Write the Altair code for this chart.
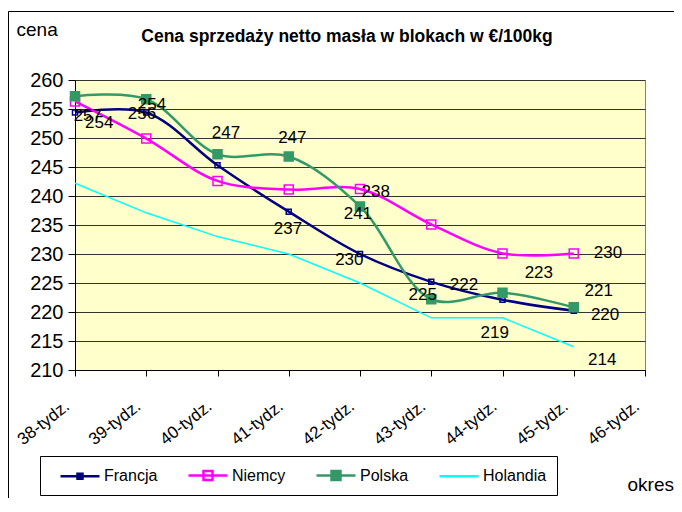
import json
import altair as alt
import pandas as pd

weeks = ["38-tydz.", "39-tydz.", "40-tydz.", "41-tydz.", "42-tydz.",
         "43-tydz.", "44-tydz.", "45-tydz.", "46-tydz."]
series_names = ["Francja", "Niemcy", "Polska", "Holandia"]
francja = [254.4, 254.4, 245.3, 237.3, 230.0, 225.2, 222.1, 220.2]
niemcy = [256.3, 249.9, 242.6, 241.1, 241.2, 235.1, 230.1, 230.1]
polska = [257.2, 256.7, 247.2, 246.8, 238.2, 222.2, 223.3, 220.8]
holandia = [242.2, 237.1, 233.0, 230.0, 225.0, 219.0, 219.0, 214.0]
colors = ["#000080", "#FF00FF", "#339966", "#00FFFF"]
fills = ["transparent", "transparent", "#339966", "transparent"]

label_text = ["257", "254", "256", "254", "247", "247", "237", "238", "241",
              "230", "225", "222", "223", "219", "230", "221", "220", "214"]
label_week = [0.18, 0.34, 0.94, 1.08, 2.12, 3.05, 2.99, 4.22, 3.97,
              3.85, 4.88, 5.46, 6.51, 5.89, 7.48, 7.35, 7.44, 7.40]
label_value = [253.8, 252.6, 254.1, 255.7, 250.8, 250.0, 234.3, 240.7, 236.9,
               228.9, 223.0, 224.6, 226.7, 216.3, 230.1, 223.6, 219.4, 211.8]

y_ticks = [210, 215, 220, 225, 230, 235, 240, 245, 250, 255, 260]
title_text = "Cena sprzedaży netto masła w blokach w €/100kg"

rows = []
for name, vals in zip(series_names, [francja, niemcy, polska, holandia]):
    for i, v in enumerate(vals):
        rows.append({"series": name, "pos": i, "value": v})
df = pd.DataFrame(rows)
labels_df = pd.DataFrame({"pos": label_week, "value": label_value, "text": label_text})

# legend symbols: line with square marker (unit = 8px)
legend_paths = [
    "M0.125,0H5M2.25,-0.3125H2.875V0.3125H2.25Z",
    "M0.125,0H5M2,-0.5625H3.125V0.5625H2Z",
    "M0.125,0H5M2,-0.5625H3.125V0.5625H2Z",
    "M0.125,0H5",
]

stroke_scale = alt.Scale(domain=series_names, range=colors)
fill_scale = alt.Scale(domain=series_names, range=fills)
shape_scale = alt.Scale(domain=series_names, range=legend_paths)

x_axis = alt.Axis(
    values=list(range(9)),
    labelExpr=json.dumps(weeks, ensure_ascii=False) + "[datum.value]",
    labelAngle=-38, labelAlign="right", labelBaseline="middle",
    labelFontSize=17, labelPadding=28, labelOffset=-8, labelColor="black",
    labelFlush=False, labelOverlap=False,
    tickSize=6, tickColor="black", domainColor="black", grid=False,
    title="okres", titleX=552, titleY=120, titleAlign="left", titleAngle=0,
    titleBaseline="alphabetic", titleFontSize=19, titleFontWeight="normal",
    titleColor="black",
)
y_axis = alt.Axis(
    values=y_ticks, grid=True, gridColor="#333333", tickCount=11,
    labelFontSize=20, labelPadding=5, labelColor="black", labelOverlap=False,
    tickSize=7, tickColor="black", domainColor="black",
    title="cena", titleAngle=0, titleX=-59, titleY=-45, titleAlign="left",
    titleBaseline="alphabetic", titleFontSize=19, titleFontWeight="normal",
    titleColor="black",
)


def xy():
    return dict(
        x=alt.X("pos:Q", scale=alt.Scale(domain=[0, 8], nice=False, zero=False), axis=x_axis),
        y=alt.Y("value:Q", scale=alt.Scale(domain=[210, 260], nice=False, zero=False), axis=y_axis),
    )


base = alt.Chart(df)

frame = alt.Chart(pd.DataFrame({"a": [0]})).mark_rect(
    fillOpacity=0, stroke="black", strokeWidth=1
).encode(x=alt.value(-66.5), x2=alt.value(640), y=alt.value(-68.5), y2=alt.value(460))

legend_layer = base.transform_filter("datum.pos < 0").mark_point().encode(
    shape=alt.Shape("series:N", scale=shape_scale, legend=alt.Legend(title=None)),
    stroke=alt.Stroke("series:N", scale=stroke_scale, legend=alt.Legend(title=None)),
    fill=alt.Fill("series:N", scale=fill_scale, legend=alt.Legend(title=None)),
    **xy(),
)

smooth = base.transform_filter("datum.series != 'Holandia'").mark_line(
    interpolate="catmull-rom", strokeWidth=2.5
).encode(stroke=alt.Stroke("series:N", scale=stroke_scale, legend=None),
         detail="series:N", **xy())

straight = base.transform_filter("datum.series == 'Holandia'").mark_line(
    strokeWidth=1.5
).encode(stroke=alt.Stroke("series:N", scale=stroke_scale, legend=None), **xy())

small_pts = base.transform_filter("datum.series == 'Francja'").mark_point(
    shape="square", size=25, strokeWidth=1.5, opacity=1
).encode(stroke=alt.Stroke("series:N", scale=stroke_scale, legend=None),
         fill=alt.Fill("series:N", scale=fill_scale, legend=None), **xy())

big_pts = base.transform_filter("datum.series == 'Niemcy' || datum.series == 'Polska'").mark_point(
    shape="square", size=81, strokeWidth=1.5, opacity=1
).encode(stroke=alt.Stroke("series:N", scale=stroke_scale, legend=None),
         fill=alt.Fill("series:N", scale=fill_scale, legend=None), **xy())

labels = alt.Chart(labels_df).mark_text(
    fontSize=17, color="black", align="center", baseline="middle"
).encode(text="text:N", **xy())

title = alt.Chart(pd.DataFrame({"t": [title_text]})).mark_text(
    fontSize=17.5, fontWeight="bold", color="black", align="center", baseline="alphabetic"
).encode(x=alt.value(272), y=alt.value(-38), text="t:N")

chart = alt.layer(frame, legend_layer, smooth, straight, small_pts, big_pts, labels, title).properties(
    width=570, height=290,
    padding={"left": 67, "top": 72, "right": 29, "bottom": 128},
    autosize=alt.AutoSizeParams(type="none"),
).configure(font="Liberation Sans").configure_view(
    fill="#FFFFCC", stroke="#808080", strokeWidth=1
).configure_legend(
    orient="none", legendX=-35, legendY=376, direction="horizontal",
    strokeColor="black", fillColor="white", padding=10,
    symbolSize=256, symbolStrokeWidth=2.5, symbolOpacity=1, symbolFillColor="white",
    labelFontSize=16, labelColor="black", labelOffset=35, columnPadding=20,
    labelFont="Liberation Sans",
)

chart.save("out.html", embed_options={"renderer": "svg", "actions": False})
